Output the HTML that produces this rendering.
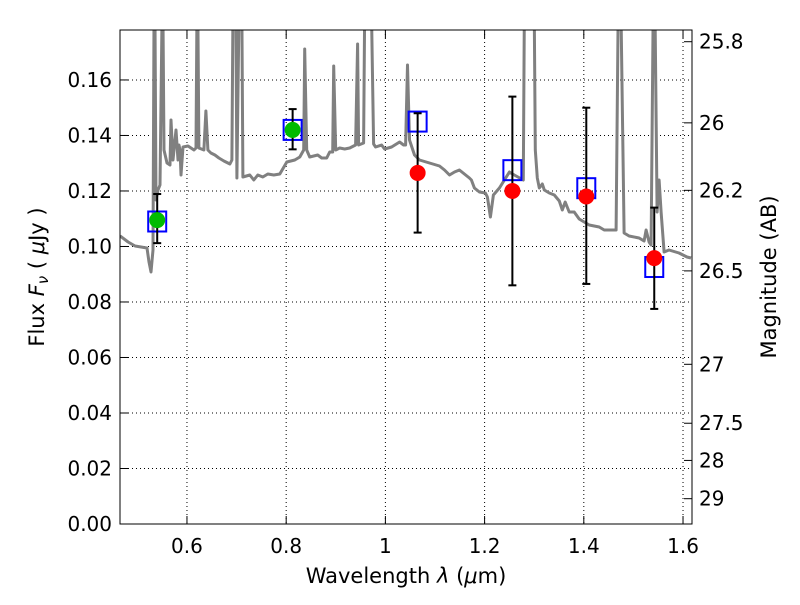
<!DOCTYPE html>
<html><head><meta charset="utf-8"><style>
body{margin:0;background:#fff}
svg text{font-family:"DejaVu Sans","Liberation Sans",sans-serif;fill:#000}
</style></head><body>
<svg id="chart" width="800" height="600">
<defs><clipPath id="clip"><rect x="120" y="30" width="572" height="494"/></clipPath></defs>
<g id="grid"></g>
<g id="spec" clip-path="url(#clip)"></g>
<g id="pts"></g>
<rect x="120" y="30" width="572" height="494" fill="none" stroke="#000" stroke-width="1"/>
<g id="axes"></g>
<text x="406" y="583" font-size="21" text-anchor="middle">Wavelength  <tspan font-style="italic">λ</tspan> (<tspan font-style="italic">μ</tspan>m)</text>
<text transform="translate(44,277) rotate(-90)" font-size="21" text-anchor="middle">Flux  <tspan font-style="italic">F<tspan font-size="15" dy="4">ν</tspan></tspan><tspan dy="-4">  ( </tspan><tspan font-style="italic">μ</tspan>Jy )</text>
<text transform="translate(776,277) rotate(-90)" font-size="21" text-anchor="middle">Magnitude (AB)</text>
</svg>
<script>
const xTicks=[0.6,0.8,1,1.2,1.4,1.6];
const xTickLabels=["0.6","0.8","1","1.2","1.4","1.6"];
const yTicks=[0,0.02,0.04,0.06,0.08,0.10,0.12,0.14,0.16];
const yTickLabels=["0.00","0.02","0.04","0.06","0.08","0.10","0.12","0.14","0.16"];
const magTicks=[25.8,26,26.2,26.5,27,27.5,28,29];
const magTickLabels=["25.8","26","26.2","26.5","27","27.5","28","29"];
const bandLambda=[0.54,0.813,1.065,1.256,1.405,1.542];
const obsFlux=[0.1095,0.142,0.1265,0.120,0.118,0.0958];
const errLow=[0.1012,0.135,0.105,0.086,0.0865,0.0775];
const errHigh=[0.1189,0.1495,0.148,0.154,0.150,0.114];
const modelFlux=[0.109,0.142,0.145,0.1275,0.121,0.0926];
const pointColor=["#00bb00","#00bb00","#ff0000","#ff0000","#ff0000","#ff0000"];
const specPx=[[120,236],[128,242],[135,246],[147,248],[149,262],[151,272],[153,250],[154,20],[155,20],[156,200],[158,190],[160,185],[162,20],[163,20],[164,150],[167,163],[170,165],[171,120],[173,160],[176,130],[178,160],[179,145],[180,150],[181,175],[183,147],[188,146],[194,150],[196,148],[197,20],[198,20],[199,148],[204,150],[206,111],[208,150],[211,153],[215,155],[219,158],[224,161],[230,164],[232,160],[233,20],[236,20],[237,178],[239,20],[242,20],[243,177],[250,175],[254,180],[258,175],[263,177],[268,174],[274,175],[280,174],[287,162],[295,160],[300,157],[304,150],[305,49],[307,150],[310,157],[318,155],[322,158],[327,158],[330,152],[333,152],[334,66],[336,150],[340,148],[345,149],[350,148],[356,145],[358,44],[359,145],[364,143],[365,20],[372,20],[374,144],[376,147],[382,145],[385,149],[392,147],[400,142],[404,145],[406,145],[408,65],[410,140],[415,155],[420,160],[430,163],[440,166],[445,170],[450,175],[455,172],[460,170],[465,174],[470,178],[472,180],[475,188],[480,192],[486,193],[488,197],[491,217],[494,195],[500,188],[510,172],[515,175],[524,180],[525,20],[535,20],[536,150],[538,178],[540,188],[543,184],[545,190],[550,193],[555,195],[560,201],[563,210],[566,202],[570,212],[575,212],[580,219],[585,222],[590,225],[600,227],[605,230],[617,230],[619,20],[622,20],[625,233],[630,236],[640,238],[645,241],[647,230],[650,242],[652,245],[654,20],[656,20],[658,212],[660,180],[662,212],[665,252],[670,250],[680,253],[688,257],[692,258]];
const specLambda=specPx.map(p=>0.6+(p[0]-187)/497);
const specFlux=specPx.map(p=>(524-p[1])/2775);

const X0=120,X1=692,Y0=524,Y1=30,LMIN=0.465,LMAX=1.6181,FMAX=0.178;
const sx=l=>X0+(l-LMIN)/(LMAX-LMIN)*(X1-X0);
const sy=f=>Y0-f/FMAX*(Y0-Y1);
const NS="http://www.w3.org/2000/svg";
function mk(tag,attrs,parent){const e=document.createElementNS(NS,tag);for(const k in attrs)e.setAttribute(k,attrs[k]);parent.appendChild(e);return e;}
const grid=document.getElementById('grid'),axes=document.getElementById('axes');
xTicks.forEach((t,i)=>{const x=sx(t);
 const g=mk('line',{x1:x,x2:x,y1:Y1,y2:Y0,stroke:'#000','stroke-dasharray':'1,3','stroke-width':1},grid);
 
 
 mk('line',{x1:x,x2:x,y1:Y0,y2:Y0-8,stroke:'#000'},axes);
 mk('line',{x1:x,x2:x,y1:Y1,y2:Y1+8,stroke:'#000'},axes);
 const tx=mk('text',{x:x,y:553,'font-size':20,'text-anchor':'middle'},axes);tx.textContent=xTickLabels[i];
 
 
});
yTicks.forEach((t,i)=>{const y=sy(t);
 if(t>0){const g=mk('line',{x1:X0,x2:X1,y1:y,y2:y,stroke:'#000','stroke-dasharray':'1,3','stroke-width':1},grid);
 
 }
 mk('line',{x1:X0,x2:X0+8,y1:y,y2:y,stroke:'#000'},axes);
 const tx=mk('text',{x:112,y:y+7,'font-size':20,'text-anchor':'end'},axes);tx.textContent=yTickLabels[i];
 
 
});
magTicks.forEach((m,i)=>{const y=sy(Math.pow(10,(23.9-m)/2.5));
 mk('line',{x1:X1,x2:X1-8,y1:y,y2:y,stroke:'#000'},axes);
 const tx=mk('text',{x:699,y:y+7,'font-size':20},axes);tx.textContent=magTickLabels[i];
 
 
});
const spec=document.getElementById('spec');
const pl=mk('polyline',{points:specLambda.map((l,i)=>sx(l).toFixed(1)+','+sy(specFlux[i]).toFixed(1)).join(' '),fill:'none',stroke:'#808080','stroke-width':3,'stroke-linejoin':'round'},spec);


const pts=document.getElementById('pts');
bandLambda.forEach((l,i)=>{const x=sx(l);
 const sq=mk('rect',{x:x-9,y:sy(modelFlux[i])-10,width:18,height:20,fill:'none',stroke:'#0000ff','stroke-width':2},pts);
 
 
 const e=mk('g',{stroke:'#000','stroke-width':2},pts);
 
 
 mk('line',{x1:x,x2:x,y1:sy(errLow[i]),y2:sy(errHigh[i])},e);
 mk('line',{x1:x-4,x2:x+4,y1:sy(errLow[i]),y2:sy(errLow[i])},e);
 mk('line',{x1:x-4,x2:x+4,y1:sy(errHigh[i]),y2:sy(errHigh[i])},e);
 const c=mk('circle',{cx:x,cy:sy(obsFlux[i]),r:8,fill:pointColor[i]},pts);
 
 
});
</script>
</body></html>
